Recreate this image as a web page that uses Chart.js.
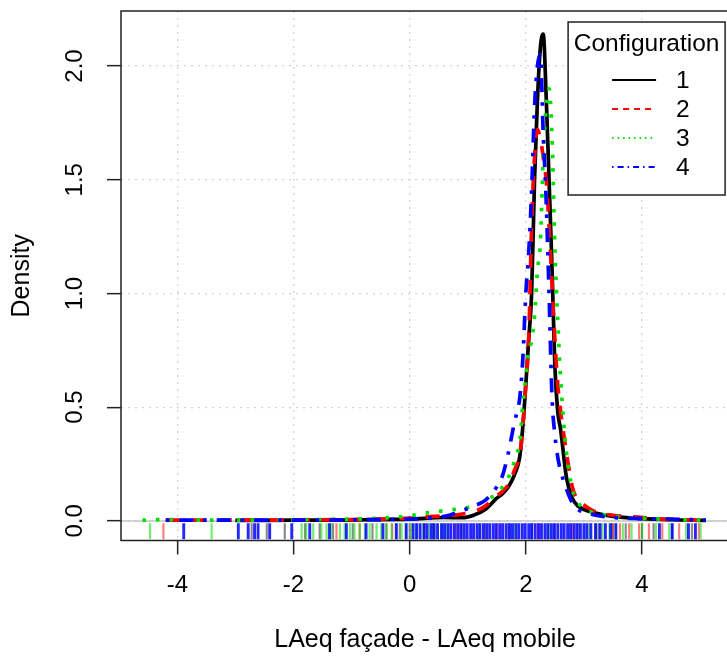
<!DOCTYPE html>
<html>
<head>
<meta charset="utf-8">
<script src="https://cdn.jsdelivr.net/npm/chart.js@4.4.1/dist/chart.umd.min.js"></script>
<style>
  html, body { margin: 0; padding: 0; overflow: hidden; background: #fff; }
  canvas { display: block; }
</style>
</head>
<body>
<canvas id="densityChart" width="740" height="656"></canvas>
<script>
// x grid the density curves were read on
const densityX = [-4.6, -4.2, -3.8, -3.0, -2.0, -1.0, -0.5, 0.0, 0.3, 0.6, 0.9, 1.1, 1.3, 1.5, 1.6, 1.7, 1.8, 1.9, 1.95, 2.0,
  2.05, 2.1, 2.15, 2.2, 2.25, 2.3, 2.35, 2.4, 2.45, 2.5, 2.55, 2.6, 2.7, 2.8, 2.9, 3.0, 3.2, 3.5, 4.0, 4.5, 5.1];

// density per configuration (null = outside that curve's range)
const config1 = [null, null, null, 0.002, 0.003, 0.004, 0.006, 0.008, 0.012, 0.015, 0.014, 0.025, 0.05, 0.1, 0.12, 0.15, 0.2, 0.29, 0.42, 0.6,
  0.8, 1.0, 1.5, 1.85, 2.08, 2.14, 1.87, 1.5, 1.12, 0.68, 0.48, 0.4, 0.19, 0.1, 0.065, 0.05, 0.035, 0.02, 0.01, 0.005, 0.002];
const config2 = [null, 0.004, 0.003, 0.003, 0.004, 0.006, 0.008, 0.012, 0.018, 0.022, 0.03, 0.04, 0.065, 0.11, 0.13, 0.16, 0.22, 0.3, 0.42, 0.6,
  0.8, 1.3, 1.6, 1.72, 1.68, 1.6, 1.5, 1.3, 1.05, 0.8, 0.6, 0.48, 0.3, 0.15, 0.09, 0.07, 0.04, 0.025, 0.015, 0.006, 0.002];
const config3 = [0.003, 0.006, 0.003, 0.003, 0.005, 0.008, 0.012, 0.022, 0.035, 0.045, 0.055, 0.065, 0.09, 0.12, 0.15, 0.19, 0.26, 0.36, 0.52, 0.63,
  0.75, 0.79, 0.9, 1.1, 1.22, 1.6, 1.82, 1.9, 1.7, 1.2, 0.88, 0.62, 0.3, 0.14, 0.08, 0.055, 0.035, 0.02, 0.012, 0.006, 0.002];
const config4 = [null, 0.003, 0.003, 0.003, 0.003, 0.005, 0.006, 0.008, 0.012, 0.02, 0.045, 0.065, 0.09, 0.15, 0.2, 0.3, 0.43, 0.55, 0.72, 1.0,
  1.18, 1.45, 1.82, 2.0, 2.05, 1.7, 1.41, 1.0, 0.55, 0.38, 0.28, 0.22, 0.14, 0.08, 0.05, 0.04, 0.025, 0.015, 0.01, 0.008, 0.003];

// rug (observations) per configuration
const rug1 = [-2.72, -2.46, -2.15, -1.8, -1.55, -1.32, -0.98, -0.64, -0.4, -0.17, 0.0, 0.4, 0.9, 1.3, 1.7, 2.1, 2.5, 2.9, 3.25, 3.5,
  3.72, 4.0, 4.2, 4.52, 4.86];
const rug2 = [-4.24, -1.26, -0.86, -0.3, 0.25, 0.8, 1.5, 2.2, 2.8, 3.2, 3.49, 3.62, 3.78, 3.95, 4.12, 4.35, 4.64, 4.98];
const rug3 = [-4.47, -3.41, -1.86, -1.78, -1.66, -1.52, -1.43, -1.35, -1.2, -1.12, -1.03, -0.95, -0.86, -0.77, -0.69, -0.57, -0.49, -0.4,
  -0.31, -0.23, -0.14, -0.06, 0.03, 0.11, 0.23, 0.34, 0.43, 0.54, 0.63, 1.2, 1.8, 2.4, 3.09, 3.21, 3.32, 3.44, 3.55, 3.67, 3.82, 4.0,
  4.24, 4.47, 4.76, 5.01];
const rug4 = [-3.89, -2.95, -2.78, -2.67, -2.61, -2.41, -2.03, -1.72, -1.38, -1.09, -0.75, -0.46, -0.23, -0.06, 0.06, 0.12, 0.18, 0.25,
  0.3, 0.37, 0.42, 0.48, 0.55, 0.6, 0.66, 0.71, 0.77, 0.83, 0.88, 0.94, 0.99, 1.05, 1.1, 1.16, 1.21, 1.27, 1.33, 1.38, 1.44, 1.49,
  1.55, 1.6, 1.66, 1.72, 1.77, 1.83, 1.88, 1.94, 1.99, 2.05, 2.1, 2.16, 2.22, 2.27, 2.33, 2.38, 2.44, 2.49, 2.55, 2.61, 2.66, 2.72,
  2.77, 2.83, 2.88, 2.94, 3.0, 3.05, 3.12, 3.2, 3.28, 3.37, 3.46, 3.55, 4.3, 4.52, 4.8, 4.92];

const seriesLabels = ['1', '2', '3', '4'];
const xTickValues = [-4, -2, 0, 2, 4];
const yTickValues = [0, 0.5, 1.0, 1.5, 2.0];

const FONT = "'Liberation Sans', Arial, sans-serif";
const RUG_Y = -0.045;

const lineStyles = [
  { color: '#000000', dash: [], legendDash: [] },
  { color: '#ff0000', dash: [14, 12], legendDash: [6, 5] },
  { color: '#00e000', dash: [3.5, 10], legendDash: [1.5, 4] },
  { color: '#0000ff', dash: [3.5, 10, 14, 10], legendDash: [1.5, 4, 6, 4] }
];
const rugColors = ['rgba(0,0,0,0.45)', 'rgba(255,0,0,0.5)', 'rgba(0,220,0,0.55)', 'rgba(0,0,255,0.85)'];
const rugWidths = [2.2, 2.2, 2.2, 2.9];

function toPoints(values) {
  return densityX.map((x, i) => ({ x: x, y: values[i] })).filter(p => p.y !== null);
}

const densityDatasets = [config1, config2, config3, config4].map((values, i) => ({
  label: seriesLabels[i],
  data: toPoints(values),
  borderColor: lineStyles[i].color,
  borderDash: lineStyles[i].dash,
  borderWidth: 3.7,
  pointRadius: 0,
  fill: false,
  cubicInterpolationMode: 'monotone',
  isDensity: true,
  order: 10 - i
}));

const rugDatasets = [rug1, rug2, rug3, rug4].map((values, i) => ({
  label: 'rug ' + seriesLabels[i],
  data: values.map(x => ({ x: x, y: RUG_Y })),
  showLine: false,
  pointStyle: 'line',
  pointRotation: 90,
  pointRadius: 8,
  pointBorderWidth: rugWidths[i],
  pointBorderColor: rugColors[i],
  pointBackgroundColor: rugColors[i],
  order: 20 - i
}));

// zero line, plot box and the R style legend
const rPlot = {
  id: 'rPlot',
  beforeDatasetsDraw(chart) {
    const { ctx, chartArea: a, scales: { y } } = chart;
    const y0 = y.getPixelForValue(0);
    ctx.save();
    ctx.strokeStyle = '#c4c4c4';
    ctx.lineWidth = 1.5;
    ctx.beginPath();
    ctx.moveTo(a.left, y0);
    ctx.lineTo(a.right, y0);
    ctx.stroke();
    ctx.restore();
  },
  afterDraw(chart) {
    const { ctx, chartArea: a } = chart;
    ctx.save();
    ctx.strokeStyle = '#222';
    ctx.lineWidth = 1.5;
    ctx.strokeRect(a.left, a.top, a.right - a.left, a.bottom - a.top);

    const right = a.right - 4, top = a.top + 11;
    const w = 157, h = 173, left = right - w;
    ctx.fillStyle = '#fff';
    ctx.fillRect(left, top, w, h);
    ctx.strokeRect(left, top, w, h);

    ctx.fillStyle = '#000';
    ctx.font = '24.5px ' + FONT;
    ctx.textBaseline = 'middle';
    ctx.textAlign = 'center';
    ctx.fillText('Configuration', left + w / 2, top + 22);

    ctx.textAlign = 'left';
    chart.data.datasets.filter(d => d.isDensity).forEach((d, i) => {
      const ry = top + 58 + i * 29;
      ctx.strokeStyle = d.borderColor;
      ctx.lineWidth = i === 0 ? 2 : 1.8;
      ctx.setLineDash(lineStyles[i].legendDash);
      ctx.beginPath();
      ctx.moveTo(left + 44, ry);
      ctx.lineTo(left + 88, ry);
      ctx.stroke();
      ctx.setLineDash([]);
      ctx.fillText(d.label, left + 108, ry + 1);
    });
    ctx.restore();
  }
};

const gridOpts = {
  color: '#d3d3d3',
  lineWidth: 1.3,
  tickLength: 14,
  tickColor: '#222',
  tickWidth: 1.5,
  tickBorderDash: []
};

new Chart(document.getElementById('densityChart'), {
  type: 'line',
  data: { datasets: densityDatasets.concat(rugDatasets) },
  options: {
    responsive: false,
    animation: false,
    devicePixelRatio: 1,
    layout: { padding: { top: 11, right: 10, bottom: 0, left: 0 } },
    plugins: { legend: { display: false }, tooltip: { enabled: false } },
    scales: {
      x: {
        type: 'linear',
        min: -4.97,
        max: 5.5,
        afterBuildTicks: s => { s.ticks = xTickValues.map(v => ({ value: v })); },
        afterFit: s => { s.height = 115.5; s.paddingLeft = 0; s.paddingRight = 0; },
        grid: gridOpts,
        border: { display: false, dash: [2, 5] },
        ticks: {
          color: '#000',
          font: { family: FONT, size: 24 },
          padding: 16,
          maxRotation: 0,
          callback: v => String(v)
        },
        title: {
          display: true,
          text: 'LAeq façade - LAeq mobile',
          color: '#000',
          font: { family: FONT, size: 25, lineHeight: 0.8 },
          padding: { top: 0, bottom: 6 }
        }
      },
      y: {
        type: 'linear',
        min: -0.0862,
        max: 2.242,
        afterBuildTicks: s => { s.ticks = yTickValues.map(v => ({ value: v })); },
        afterFit: s => { s.width = 121; s.paddingTop = 0; s.paddingBottom = 0; },
        grid: gridOpts,
        border: { display: false, dash: [2, 5] },
        ticks: {
          color: '#000',
          font: { family: FONT, size: 24 },
          padding: 15,
          minRotation: 90,
          maxRotation: 90,
          crossAlign: 'center',
          callback: v => v.toFixed(1)
        },
        title: {
          display: true,
          text: 'Density',
          color: '#000',
          font: { family: FONT, size: 25, lineHeight: 0.8 },
          padding: { top: 12, bottom: 0 }
        }
      }
    }
  },
  plugins: [rPlot]
});
</script>
</body>
</html>
